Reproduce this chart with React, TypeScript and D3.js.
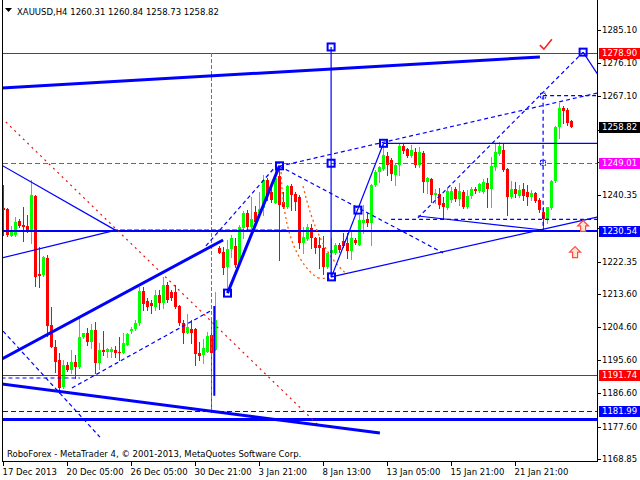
import React from 'react';
import * as d3 from 'd3';

const W = 640;
const H = 480;

// ---------- data ----------
const opens = [1236.9,1236.6,1229.3,1229.5,1233.4,1232.2,1232.1,1230.9,1240.1,1219.0,
1218.7,1223.4,1205.1,1199.3,1195.7,1188.4,1194.3,1192.9,1195.2,1193.8,
1202.0,1203.1,1200.6,1203.8,1194.8,1198.4,1197.8,1197.8,1198.4,1197.9,
1197.6,1199.7,1203.5,1204.0,1205.6,1214.4,1211.7,1211.2,1210.1,1213.3,
1211.0,1216.0,1214.2,1214.2,1210.3,1205.8,1203.1,1204.0,1204.0,1197.6,
1197.0,1197.9,1202.4,1198.4,1226.1,1225.0,1220.8,1225.7,1226.6,1221.9,
1231.4,1235.4,1231.7,1235.9,1235.4,1236.8,1244.4,1241.2,1238.1,1245.5,
1238.6,1237.1,1242.8,1240.7,1239.9,1227.3,1228.4,1231.4,1228.7,1226.8,
1225.9,1220.9,1224.6,1224.6,1226.8,1228.0,1227.5,1225.2,1228.2,1226.8,
1232.7,1233.8,1232.9,1243.1,1246.7,1247.3,1250.9,1249.9,1245.8,1248.5,
1253.7,1252.8,1250.9,1252.1,1248.5,1251.7,1244.0,1244.6,1240.4,1240.7,
1238.1,1236.8,1239.0,1241.9,1239.4,1241.3,1237.1,1240.1,1241.9,1241.5,
1241.3,1243.6,1241.9,1248.1,1251.5,1252.6,1247.3,1239.8,1241.9,1240.1,
1241.9,1241.3,1239.8,1241.0,1239.0,1235.9,1233.8,1236.8,1244.2,1258.9,
1263.9,1263.4,1260.31];
const highs = [1243.1,1236.9,1232.0,1234.4,1233.9,1237.2,1234.9,1244.4,1240.4,1226.3,
1223.9,1224.1,1210.1,1201.1,1197.6,1195.7,1195.2,1198.4,1197.0,1207.4,
1203.1,1204.3,1205.4,1206.0,1200.2,1203.5,1198.8,1199.3,1199.5,1202.0,
1202.9,1202.9,1204.7,1206.5,1215.4,1215.4,1212.4,1211.9,1214.6,1214.6,
1218.2,1216.9,1214.6,1216.0,1210.6,1206.5,1208.1,1206.5,1204.3,1200.6,
1201.5,1203.3,1206.3,1214.2,1226.6,1226.4,1228.2,1229.5,1228.7,1232.3,
1236.1,1236.3,1239.8,1237.4,1241.2,1245.8,1244.9,1243.1,1247.6,1248.2,
1241.2,1243.1,1243.4,1241.3,1240.4,1231.8,1232.5,1232.5,1229.1,1229.1,
1229.3,1222.8,1228.7,1227.5,1227.3,1230.0,1230.0,1230.4,1228.7,1235.0,
1237.7,1235.4,1243.4,1247.2,1248.2,1254.4,1252.1,1250.3,1249.0,1254.4,
1254.4,1253.0,1253.9,1253.0,1253.5,1252.2,1245.3,1244.9,1241.9,1242.2,
1239.9,1242.2,1242.6,1242.5,1243.6,1241.7,1241.7,1242.6,1242.6,1243.6,
1244.6,1244.9,1250.8,1254.6,1254.8,1254.6,1247.6,1244.3,1244.0,1243.1,
1243.6,1243.1,1241.7,1241.3,1239.5,1237.2,1237.2,1244.4,1259.1,1265.2,
1264.5,1263.9,1260.84];
const lows = [1229.5,1229.3,1229.3,1229.4,1231.7,1228.0,1230.4,1227.4,1215.7,1215.5,
1218.4,1202.2,1199.2,1192.4,1186.8,1188.1,1192.6,1192.2,1190.8,1193.5,
1201.7,1199.7,1198.9,1192.1,1193.2,1197.0,1196.6,1196.6,1196.6,1195.7,
1197.5,1199.7,1202.9,1203.8,1205.1,1209.2,1209.2,1208.5,1209.2,1209.4,
1209.7,1211.5,1211.9,1209.9,1205.1,1200.4,1203.0,1200.4,1194.3,1195.7,
1194.8,1197.9,1181.7,1198.4,1224.6,1219.0,1214.1,1223.5,1220.9,1221.9,
1228.7,1230.9,1231.2,1232.2,1234.9,1234.9,1239.0,1238.6,1238.1,1222.8,
1236.8,1236.8,1236.3,1236.3,1225.9,1224.6,1228.2,1225.9,1224.6,1220.5,
1219.0,1220.5,1218.2,1224.4,1225.0,1226.4,1223.2,1223.0,1227.1,1226.8,
1230.0,1232.0,1226.8,1242.8,1244.0,1247.2,1245.8,1244.4,1243.1,1245.8,
1251.7,1250.8,1250.8,1248.1,1248.1,1241.3,1240.8,1238.6,1238.3,1236.8,
1234.1,1236.7,1238.6,1238.8,1237.7,1236.8,1236.8,1239.5,1240.8,1241.3,
1240.8,1237.2,1237.2,1247.2,1251.2,1246.9,1234.9,1239.5,1239.9,1239.9,
1239.0,1237.7,1239.0,1238.6,1235.9,1230.9,1232.7,1236.5,1244.0,1255.7,
1259.8,1259.4,1258.73];
const closes = [1236.3,1229.5,1230.4,1233.1,1232.0,1231.6,1230.9,1240.4,1218.2,1218.4,
1223.5,1205.0,1199.3,1195.2,1188.0,1194.3,1192.9,1195.2,1193.8,1202.0,
1202.9,1200.6,1203.8,1194.8,1198.4,1197.8,1198.6,1198.6,1197.6,1197.6,
1200.2,1202.7,1204.1,1205.8,1214.4,1210.9,1210.1,1210.3,1213.3,1211.0,
1216.0,1211.9,1212.4,1210.1,1205.8,1203.1,1204.5,1203.1,1197.3,1196.8,
1198.8,1202.2,1197.7,1206.5,1224.8,1220.5,1225.7,1228.7,1221.4,1231.8,
1235.4,1231.8,1233.8,1233.1,1236.5,1244.4,1240.1,1239.0,1245.1,1237.7,
1237.2,1242.8,1240.4,1238.6,1227.3,1228.9,1231.6,1228.7,1225.9,1225.9,
1220.9,1224.6,1225.5,1226.8,1225.5,1226.6,1225.3,1228.7,1227.5,1233.6,
1233.6,1232.7,1243.1,1246.7,1248.1,1251.2,1248.5,1246.0,1248.5,1253.7,
1252.4,1250.9,1252.6,1248.5,1252.1,1244.0,1244.9,1240.4,1241.0,1237.7,
1237.1,1241.5,1241.5,1239.2,1241.5,1237.1,1240.1,1241.9,1241.5,1243.3,
1244.0,1241.9,1248.2,1252.1,1253.7,1247.2,1239.9,1241.9,1240.7,1241.7,
1240.1,1239.9,1241.0,1238.8,1236.3,1233.8,1237.1,1244.2,1258.9,1263.9,
1263.2,1260.0,1258.82];

// axis ticks; the ones hidden behind price boxes get a tick mark only
const yTickValues = [1285.10,1276.10,1267.10,1258.10,1249.35,1240.35,1231.35,1222.35,1213.60,1204.60,1195.60,1186.60,1177.60,1168.85];
const yLabelValues = [1285.10,1276.10,1267.10,1240.35,1222.35,1213.60,1204.60,1195.60,1186.60,1177.60,1168.85];
const xTickIndex = [0,16,32,48,64,80,96,112,128];
const xTickLabels = ['17 Dec 2013','20 Dec 05:00','26 Dec 05:00','30 Dec 21:00','3 Jan 21:00','8 Jan 13:00','13 Jan 05:00','15 Jan 21:00','21 Jan 21:00'];

// price marks on axis
const boxValues = [1278.90, 1258.82, 1249.01, 1230.54, 1191.74, 1181.99];
const boxColors = ['#ff0000', '#000000', '#ff00ff', '#0000ff', '#ff0000', '#0000ff'];

// horizontal levels
const redLevels = [1278.90, 1191.74];
const magentaLevels = [1249.01];
const blueLevels = [1230.54];
const blueDashLevels = [1181.99];
const blueThickLevels = [1179.8];

// trend lines as [index1, price1, index2, price2]
const thickLines = [
  [-0.5, 1269.4, 134.1, 1277.8],
  [-0.5, 1189.2, 94.1, 1175.9],
  [-0.5, 1195.9, 54.9, 1228.2],
  [56, 1213.8, 69, 1248.3],
];
const thinLines = [
  [-0.5, 1248.5, 28.4, 1230.6],
  [-0.5, 1223.3, 27.1, 1230.6],
  [82, 1218.2, 95, 1254.4],
  [82, 1218.2, 148.4, 1234.4],
  [95, 1254.4, 148.4, 1254.4],
  [81.9, 1280.5, 81.9, 1218.2],
  [103.6, 1234.7, 134.9, 1230.9],
  [144.9, 1279.1, 149.5, 1271.5],
];
const mediumLines = [
  [52.7, 1186.0, 52.7, 1210.3],
];
const dashedLines = [
  [69, 1248.2, 109.9, 1224.7],
  [69, 1248.2, 148.4, 1268.0],
  [134.9, 1267.3, 148.4, 1267.3],
  [134.9, 1267.3, 134.9, 1230.6],
  [103.6, 1234.2, 144.9, 1279.1],
  [96.9, 1233.8, 148.4, 1233.8],
  [50.6, 1226.6, 68.1, 1248.2],
  [17.1, 1188.1, 52.1, 1209.2],
  [-0.1, 1203.5, 24.1, 1174.8],
  [-0.5, 1190.8, 19.1, 1190.8],
];
const dashedThickLines = [
  [27.4, 1230.8, 71.1, 1230.8],
];
const redDotLines = [
  [-0.5, 1261.3, 78.6, 1178.1],
];
const orangeVerticals = [
  [51.9, 1278.9, 51.9, 1182.0],
];
// quadratic arcs: [i0,p0, ic,pc, i1,p1]
const orangeArcs = [
  [69.4, 1246.6, 70.1, 1224.1, 78.6, 1217.9],
  [74.9, 1242.8, 78.6, 1225.5, 85.6, 1219.2],
  [78.6, 1217.9, 80.0, 1217.8, 82.0, 1217.7],
];
const bigSquares = [
  [56, 1213.8], [69, 1248.3], [82, 1218.2], [95, 1254.4], [88.6, 1236.3], [81.9, 1249.0], [81.9, 1280.5], [144.9, 1279.1],
];
const smallSquares = [
  [134.9, 1267.3], [134.9, 1249.1],
];
const upArrows = [
  [144.9, 1232.0], [142.9, 1224.9],
];
const checkMarks = [
  [135.6, 1281.0],
];

const FONT = "Tahoma, 'DejaVu Sans', sans-serif";

export default function App() {
  const n = opens.length;
  const x = d3.scaleLinear().domain([0, n - 1]).range([3.5, 3.5 + 4 * (n - 1)]);
  const y = d3.scaleLinear().domain([1168.85, 1285.10]).range([459, 30]);
  const plotL = 2.5, plotR = 597.5, plotB = 461.5;
  const hy = (v: number) => Math.round(y(v)) + 0.5;

  const ln = (a: number[], k: string, stroke: string, sw: number, dash?: string) => (
    <line key={k} x1={x(a[0])} y1={y(a[1])} x2={x(a[2])} y2={y(a[3])}
      stroke={stroke} strokeWidth={sw} strokeDasharray={dash} />
  );

  const arcPath = (a: number[]) => {
    const p = d3.path();
    p.moveTo(x(a[0]), y(a[1]));
    p.quadraticCurveTo(x(a[2]), y(a[3]), x(a[4]), y(a[5]));
    return p.toString();
  };

  return (
    <svg width={W} height={H} style={{ position: 'fixed', left: 0, top: 0, background: '#fff' }}
      fontFamily={FONT}>
      <defs>
        <clipPath id="plot">
          <rect x={plotL} y={0} width={plotR - plotL} height={plotB} />
        </clipPath>
      </defs>
      <rect x={0} y={0} width={W} height={H} fill="#fff" />

      {/* candles */}
      <g clipPath="url(#plot)" shapeRendering="crispEdges">
        {opens.map((o, i) => {
          const c = closes[i];
          const up = c >= o;
          const col = up ? '#00ff00' : '#ff0000';
          const top = Math.round(y(Math.max(o, c)));
          const bot = Math.round(y(Math.min(o, c)));
          const cx = x(i);
          return (
            <g key={i}>
              <line x1={cx} x2={cx} y1={Math.round(y(highs[i]))} y2={Math.round(y(lows[i])) + 1} stroke={col} strokeWidth={1} />
              <rect x={cx - 1.5} y={top} width={3} height={Math.max(1, bot - top)} fill={col} />
            </g>
          );
        })}
      </g>

      {/* objects */}
      <g clipPath="url(#plot)">
        <g shapeRendering="crispEdges">
          {redLevels.map((v, k) => (
            <line key={'r' + k} x1={plotL} x2={plotR} y1={hy(v)} y2={hy(v)} stroke="#ff0000" strokeWidth={1} />
          ))}
          {magentaLevels.map((v, k) => (
            <line key={'m' + k} x1={plotL} x2={plotR} y1={hy(v)} y2={hy(v)} stroke="#ff00ff" strokeWidth={1} strokeDasharray="5,3" />
          ))}
          {blueLevels.map((v, k) => (
            <line key={'b' + k} x1={plotL} x2={plotR} y1={Math.round(y(v))} y2={Math.round(y(v))} stroke="#0000ff" strokeWidth={2} />
          ))}
          {blueDashLevels.map((v, k) => (
            <line key={'bd' + k} x1={plotL} x2={plotR} y1={hy(v)} y2={hy(v)} stroke="#0000ff" strokeWidth={1} strokeDasharray="5,3" />
          ))}
          {blueThickLevels.map((v, k) => (
            <line key={'bt' + k} x1={plotL} x2={plotR} y1={hy(v)} y2={hy(v)} stroke="#0000ff" strokeWidth={3} />
          ))}
          {orangeVerticals.map((a, k) => (
            <line key={'ov' + k} x1={Math.round(x(a[0])) + 0.5} x2={Math.round(x(a[2])) + 0.5} y1={y(a[1])} y2={y(a[3])} stroke="#ff4500" strokeWidth={1} strokeDasharray="4,2" />
          ))}
        </g>
        {redDotLines.map((a, k) => ln(a, 'rd' + k, '#e81010', 1.2, '2,4'))}
        {orangeArcs.map((a, k) => (
          <path key={'oa' + k} d={arcPath(a)} fill="none" stroke="#ff5a00" strokeWidth={1.3} strokeDasharray="2,3" />
        ))}
        {thickLines.map((a, k) => ln(a, 'tk' + k, '#0000ff', 3))}
        {thinLines.map((a, k) => ln(a, 'tn' + k, '#0000ff', 1.2))}
        {mediumLines.map((a, k) => ln(a, 'md' + k, '#0000ff', 2))}
        {dashedLines.map((a, k) => ln(a, 'ds' + k, '#0000ff', 1.2, '4,3'))}
        {dashedThickLines.map((a, k) => ln(a, 'dt' + k, '#0000ff', 2, '5,2'))}
        {bigSquares.map((s, k) => (
          <rect key={'sq' + k} x={x(s[0]) - 3.5} y={y(s[1]) - 3.5} width={7} height={7} fill="none" stroke="#0000ff" strokeWidth={2} />
        ))}
        {smallSquares.map((s, k) => (
          <rect key={'ss' + k} x={x(s[0]) - 2.5} y={y(s[1]) - 2.5} width={5} height={5} fill="none" stroke="#0000ff" strokeWidth={1} strokeDasharray="2,1" />
        ))}
        {upArrows.map((s, k) => {
          const cx = x(s[0]), cy = y(s[1]);
          return (
            <path key={'ua' + k} transform={`translate(${cx},${cy})`}
              d="M0,-5.5 L5.5,0 L2.5,0 L2.5,5.5 L-2.5,5.5 L-2.5,0 L-5.5,0 Z"
              fill="#ffe6d0" stroke="#ff4a4a" strokeWidth={1.2} />
          );
        })}
        {checkMarks.map((s, k) => (
          <path key={'ck' + k} transform={`translate(${x(s[0])},${y(s[1])})`}
            d="M-6,0 L-2,4 L6,-6" fill="none" stroke="#ff2020" strokeWidth={1.6} />
        ))}
      </g>

      {/* frame */}
      <g shapeRendering="crispEdges" stroke="#000" strokeWidth={1}>
        <line x1={plotL} x2={plotL} y1={0} y2={plotB} />
        <line x1={plotR} x2={plotR} y1={0} y2={plotB} />
        <line x1={plotL} x2={plotR} y1={plotB} y2={plotB} />
        {yTickValues.map((v, k) => (
          <line key={'yt' + k} x1={plotR} x2={plotR + 3} y1={hy(v)} y2={hy(v)} />
        ))}
        {xTickIndex.map((v, k) => (
          <line key={'xt' + k} x1={Math.round(x(v)) - 0.5} x2={Math.round(x(v)) - 0.5} y1={plotB} y2={plotB + 4} />
        ))}
      </g>

      {/* y tick labels */}
      <g fontSize={8.5} fill="#000">
        {yLabelValues.map((v, k) => (
          <text key={'yl' + k} x={602} y={y(v) + 3}>{v.toFixed(2)}</text>
        ))}
      </g>
      {/* price boxes */}
      <g fontSize={8.5}>
        {boxValues.map((v, k) => (
          <g key={'bx' + k}>
            <rect x={599} y={Math.round(y(v)) - 5} width={41} height={11} fill={boxColors[k]} shapeRendering="crispEdges" />
            <text x={602} y={y(v) + 3} fill="#fff">{v.toFixed(2)}</text>
          </g>
        ))}
      </g>

      {/* x tick labels */}
      <g fontSize={8.5} fill="#000">
        {xTickIndex.map((v, k) => (
          <text key={'xl' + k} x={x(v) - 1} y={475}>{xTickLabels[k]}</text>
        ))}
      </g>

      {/* title */}
      <path d="M5,8 L12,8 L8.5,12 Z" fill="#000" />
      <text x={17} y={15} fontSize={8.5} fill="#000">
        {`XAUUSD,H4  ${opens[n - 1].toFixed(2)} ${highs[n - 1].toFixed(2)} ${lows[n - 1].toFixed(2)} ${closes[n - 1].toFixed(2)}`}
      </text>
      <text x={7} y={457} fontSize={8.5} fill="#000">RoboForex - MetaTrader 4, © 2001-2013, MetaQuotes Software Corp.</text>
    </svg>
  );
}
